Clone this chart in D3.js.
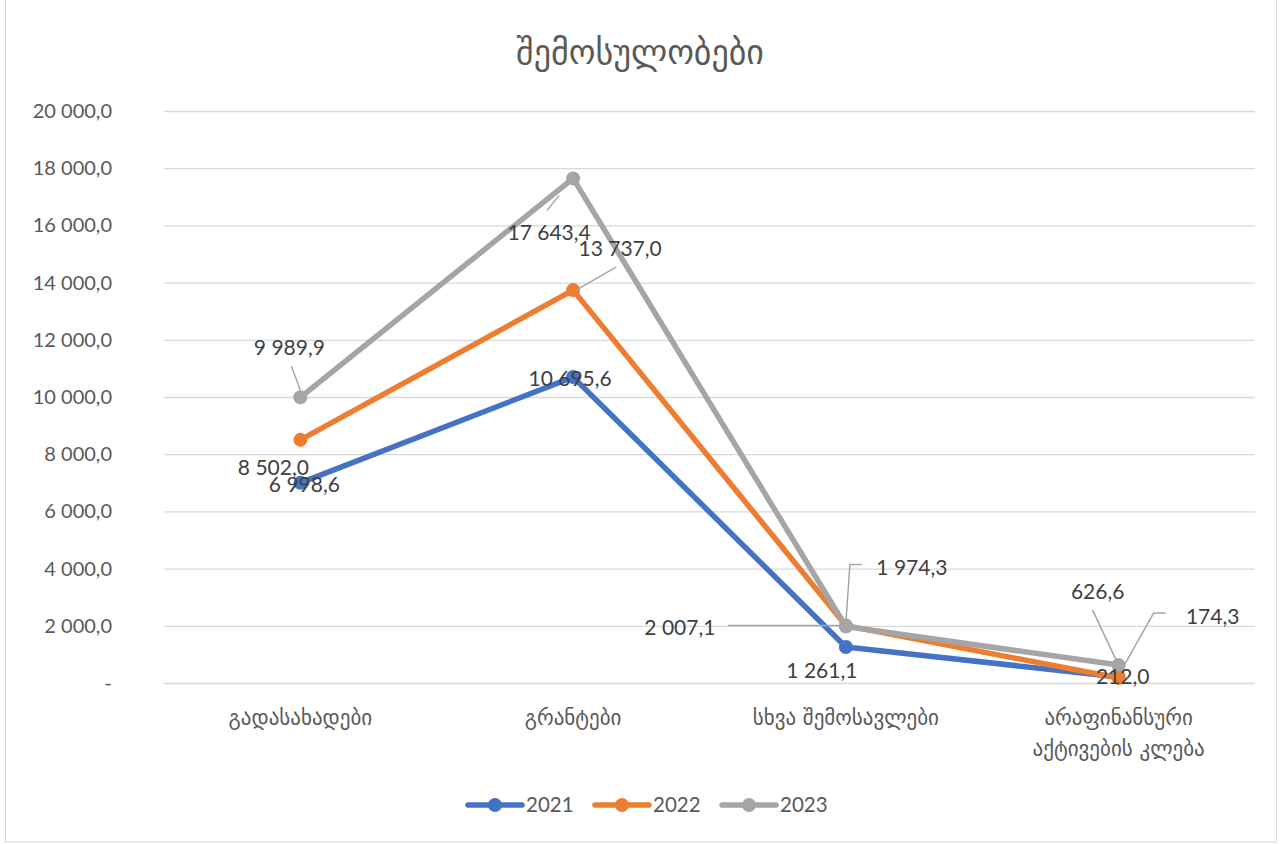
<!DOCTYPE html>
<html><head><meta charset="utf-8">
<script src="https://cdn.jsdelivr.net/npm/d3@7"></script>
<style>
body{margin:0;background:#fff;}
text{font-family:"Lato","Liberation Sans",sans-serif;}
</style></head>
<body><svg id="c" width="1286" height="844"></svg>
<script>
const title = "შემოსულობები";
const categories = [["გადასახადები"],["გრანტები"],["სხვა შემოსავლები"],["არაფინანსური","აქტივების კლება"]];
const years = ["2021","2022","2023"];
const values2021 = [6998.6, 10695.6, 1261.1, 212.0];
const values2022 = [8502.0, 13737.0, 2007.1, 174.3];
const values2023 = [9989.9, 17643.4, 1974.3, 626.6];
const yTicks = [0,2000,4000,6000,8000,10000,12000,14000,16000,18000,20000];
const colors = ["#4472C4","#ED7D31","#A5A5A5"];
const series = [values2021, values2022, values2023];

// label placement (offsets from point, in px) and leader lines
const labelPos = [
  [{dx:4,dy:2},{dx:-3,dy:2},{dx:-24,dy:24},{dx:4,dy:0}],
  [{dx:-27,dy:28},{dx:47,dy:-41,leader:[[43,-23],[3,0]]},{dx:-166,dy:2,leader:[[-118,0],[-2,0]]},{dx:94,dy:-61,leader:[[47,-65],[35,-65],[4,-10]]}],
  [{dx:-11,dy:-50,leader:[[-9,-31],[0,-7]]},{dx:-24,dy:54,leader:[[-26,32],[-14,17]]},{dx:66,dy:-59,leader:[[16,-62],[4,-62],[0,-3]]},{dx:-21,dy:-73,leader:[[-26,-55],[-2,-4]]}]
];

const svg = d3.select("#c");
svg.append("rect").attr("x",5.5).attr("y",-1).attr("width",1271).attr("height",843)
  .attr("fill","#fff").attr("stroke","#d9d9d9");

const loc = d3.formatLocale({decimal:",", thousands:"\u2009", grouping:[3]});
const f = loc.format(",.1f");
const fmt = v => v===0 ? "-" : f(v).replace(/\u2009/g," ");

const x = d3.scaleBand().domain(d3.range(categories.length)).range([164,1255]);
const cx = i => x(i)+x.bandwidth()/2;
const y = d3.scaleLinear().domain([0,20000]).range([683,111]);

svg.append("text").attr("x",640).attr("y",64).attr("text-anchor","middle")
  .attr("font-size",34).attr("fill","#595959").style("font-family","DejaVu Sans, sans-serif").text(title);

const ga = svg.append("g").attr("transform","translate(164,0)")
  .call(d3.axisLeft(y).tickValues(yTicks).tickSize(-1091).tickFormat(fmt).tickPadding(52));
ga.select(".domain").remove();
ga.selectAll(".tick line").attr("stroke","#d9d9d9").attr("stroke-width",1.3);
ga.selectAll(".tick text").attr("fill","#595959").attr("font-size",20).style("font-family","Lato, sans-serif");

const gx = svg.append("g").attr("transform","translate(0,683)");
categories.forEach((lines,i)=>{
  const t = gx.append("text").attr("x",cx(i)).attr("y",42).attr("text-anchor","middle")
    .attr("fill","#595959").attr("font-size",21).style("font-family","DejaVu Sans, sans-serif");
  lines.forEach((l,j)=>t.append("tspan").attr("x",cx(i)).attr("dy",j?31:0).text(l));
});

const line = d3.line().x((d,i)=>cx(i)).y(d=>y(d));
series.forEach((vals,s)=>{
  svg.append("path").datum(vals).attr("d",line).attr("fill","none")
    .attr("stroke",colors[s]).attr("stroke-width",5.5).attr("stroke-linejoin","round").attr("stroke-linecap","round");
  svg.selectAll(null).data(vals).enter().append("circle")
    .attr("cx",(d,i)=>cx(i)).attr("cy",d=>y(d)).attr("r",7).attr("fill",colors[s]);
});

series.forEach((vals,s)=>{
  vals.forEach((v,i)=>{
    const p = labelPos[s][i], px = cx(i), py = y(v);
    if(p.leader){
      svg.append("path").attr("d",d3.line()(p.leader.map(q=>[px+q[0],py+q[1]])))
        .attr("fill","none").attr("stroke","#a6a6a6").attr("stroke-width",1.5);
    }
  });
});
series.forEach((vals,s)=>{
  vals.forEach((v,i)=>{
    const p = labelPos[s][i];
    svg.append("text").attr("x",cx(i)+p.dx).attr("y",y(v)+p.dy).attr("dy","0.35em")
      .attr("text-anchor","middle").attr("font-size",21).attr("fill","#404040").text(fmt(v));
  });
});

const lg = svg.append("g").attr("transform","translate(0,805)");
const lx = [468,595,722];
years.forEach((yr,s)=>{
  lg.append("line").attr("x1",lx[s]).attr("x2",lx[s]+54).attr("stroke",colors[s]).attr("stroke-width",5.5).attr("stroke-linecap","round");
  lg.append("circle").attr("cx",lx[s]+27).attr("r",7).attr("fill",colors[s]);
  lg.append("text").attr("x",lx[s]+58).attr("dy","0.35em").attr("font-size",20.5).attr("fill","#595959").text(yr);
});
</script></body></html>
